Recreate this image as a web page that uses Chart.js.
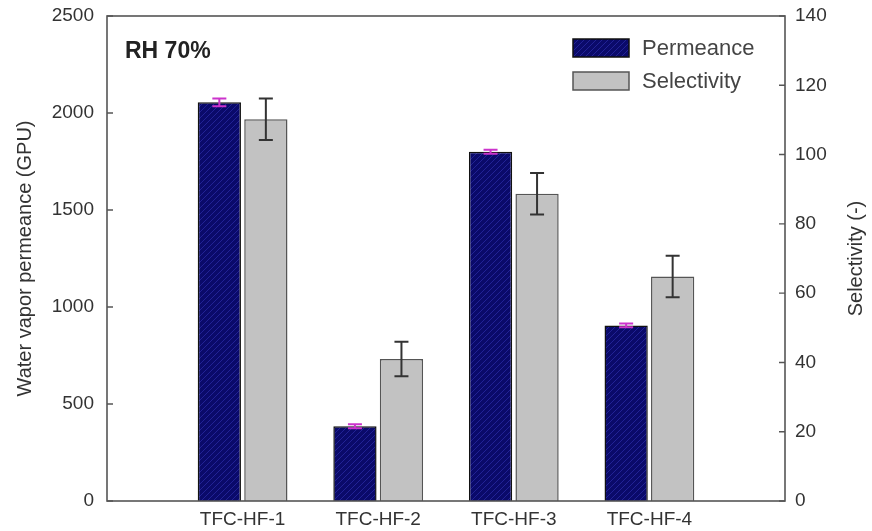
<!DOCTYPE html>
<html><head><meta charset="utf-8">
<script src="https://cdn.jsdelivr.net/npm/chart.js@4/dist/chart.umd.min.js"></script>
<style>html,body{margin:0;padding:0;background:#fff}#wrap{width:872px;height:531px;position:relative}</style>
</head><body><div id="wrap"><canvas id="c"></canvas></div>
<script>
const categories = ['TFC-HF-1', 'TFC-HF-2', 'TFC-HF-3', 'TFC-HF-4'];
const permeance = [2055, 385, 1800, 905];
const permeanceErr = [20, 10, 10, 10];
const selectivity = [110.2, 41.0, 88.7, 64.8];
const selectivityErr = [6, 5, 6, 6];
const leftTicks = [0, 500, 1000, 1500, 2000, 2500];
const rightTicks = [0, 20, 40, 60, 80, 100, 120, 140];
const seriesNames = ['Permeance', 'Selectivity'];
const leftTitle = 'Water vapor permeance (GPU)';
const rightTitle = 'Selectivity (-)';
const noteText = 'RH 70%';

const FONT = "'Liberation Sans', Arial, Helvetica, sans-serif";
const canvas = document.getElementById('c');
const mainCtx = canvas.getContext('2d');

function makeHatch() {
  const p = document.createElement('canvas');
  p.width = 6; p.height = 6;
  const g = p.getContext('2d');
  g.fillStyle = '#0a0a6a';
  g.fillRect(0, 0, 6, 6);
  g.strokeStyle = '#222296';
  g.lineWidth = 1;
  g.beginPath();
  g.moveTo(-1, 7); g.lineTo(7, -1);
  g.moveTo(-1, 1); g.lineTo(1, -1);
  g.moveTo(5, 7); g.lineTo(7, 5);
  g.stroke();
  return mainCtx.createPattern(p, 'repeat');
}
const hatch = makeHatch();

const toPoints = arr => arr.map((v, i) => ({ x: i + 1, y: v }));

const extras = {
  id: 'extras',
  afterDatasetsDraw(chart) {
    const { ctx, scales } = chart;
    chart.data.datasets.forEach((ds, di) => {
      const meta = chart.getDatasetMeta(di);
      const ys = scales[ds.yAxisID];
      ctx.save();
      ctx.strokeStyle = ds.errorColor;
      ctx.lineWidth = 2;
      meta.data.forEach((bar, i) => {
        const v = ds.data[i].y, e = ds.errors[i];
        const yt = ys.getPixelForValue(v + e), yb = ys.getPixelForValue(v - e);
        const x = bar.x, w = 7;
        ctx.beginPath();
        ctx.moveTo(x, yt); ctx.lineTo(x, yb);
        ctx.moveTo(x - w, yt); ctx.lineTo(x + w, yt);
        ctx.moveTo(x - w, yb); ctx.lineTo(x + w, yb);
        ctx.stroke();
      });
      ctx.restore();
    });
  },
  afterDraw(chart) {
    const { ctx, chartArea: a, scales } = chart;
    ctx.save();
    // frame
    ctx.strokeStyle = '#555';
    ctx.lineWidth = 1.6;
    ctx.strokeRect(a.left, a.top, a.right - a.left, a.bottom - a.top);
    // inward ticks
    ctx.lineWidth = 1.4;
    ctx.beginPath();
    leftTicks.forEach(v => {
      const y = scales.y.getPixelForValue(v);
      ctx.moveTo(a.left, y); ctx.lineTo(a.left + 6, y);
    });
    rightTicks.forEach(v => {
      const y = scales.y2.getPixelForValue(v);
      ctx.moveTo(a.right, y); ctx.lineTo(a.right - 6, y);
    });
    ctx.stroke();
    // right axis title, reading bottom-to-top
    ctx.save();
    ctx.translate(856, (a.top + a.bottom) / 2);
    ctx.rotate(-Math.PI / 2);
    ctx.fillStyle = '#333';
    ctx.font = '20px ' + FONT;
    ctx.textAlign = 'center';
    ctx.textBaseline = 'middle';
    ctx.fillText(rightTitle, 0, 0);
    ctx.restore();
    // legend
    const lx = 573, ly = [39, 72], bw = 56, bh = 18;
    chart.data.datasets.forEach((ds, i) => {
      ctx.fillStyle = ds.backgroundColor;
      ctx.fillRect(lx, ly[i], bw, bh);
      ctx.strokeStyle = ds.borderColor;
      ctx.lineWidth = 1.5;
      ctx.strokeRect(lx, ly[i], bw, bh);
      ctx.fillStyle = '#444';
      ctx.font = '22px ' + FONT;
      ctx.textBaseline = 'middle';
      ctx.textAlign = 'left';
      ctx.fillText(ds.label, 642, ly[i] + bh / 2 + 1);
    });
    // note
    ctx.fillStyle = '#222';
    ctx.font = 'bold 23px ' + FONT;
    ctx.textBaseline = 'middle';
    ctx.textAlign = 'left';
    ctx.fillText(noteText, 125, 52);
    ctx.restore();
  }
};

function fixVertical(width) {
  return s => { s.width = width; s.paddingTop = 0; s.paddingBottom = 0; };
}

new Chart(canvas, {
  type: 'bar',
  data: {
    datasets: [
      {
        label: seriesNames[0],
        data: toPoints(permeance),
        errors: permeanceErr,
        errorColor: '#cc33cc',
        yAxisID: 'y',
        backgroundColor: hatch,
        borderColor: '#111',
        borderWidth: 1.5
      },
      {
        label: seriesNames[1],
        data: toPoints(selectivity),
        errors: selectivityErr,
        errorColor: '#333',
        yAxisID: 'y2',
        backgroundColor: '#c2c2c2',
        borderColor: '#555',
        borderWidth: 1.5
      }
    ]
  },
  options: {
    responsive: true,
    maintainAspectRatio: false,
    animation: false,
    categoryPercentage: 0.686,
    barPercentage: 0.93,
    layout: { padding: { top: 16, left: 0, right: 0, bottom: 0 } },
    plugins: { legend: { display: false }, tooltip: { enabled: false } },
    scales: {
      x: {
        type: 'linear',
        offset: false,
        grace: 0,
        min: 0, max: 5,
        afterBuildTicks: s => { s.ticks = categories.map((_, i) => ({ value: i + 1 })); },
        ticks: {
          callback: v => categories[v - 1] || '',
          font: { family: FONT, size: 19 },
          color: '#333',
          padding: 7,
          autoSkip: false,
          maxRotation: 0
        },
        grid: { display: false, drawTicks: false, offset: false },
        border: { display: false },
        afterFit: s => { s.height = 30; s.paddingLeft = 0; s.paddingRight = 0; }
      },
      y: {
        position: 'left',
        min: 0, max: 2500,
        afterBuildTicks: s => { s.ticks = leftTicks.map(v => ({ value: v })); },
        ticks: { callback: v => String(v), font: { family: FONT, size: 19 }, color: '#333', padding: 13 },
        grid: { display: false, drawTicks: false },
        border: { display: false },
        title: { display: true, text: leftTitle, font: { family: FONT, size: 20 }, color: '#333', padding: { top: 13, bottom: 0 } },
        afterFit: fixVertical(107)
      },
      y2: {
        position: 'right',
        min: 0, max: 140,
        afterBuildTicks: s => { s.ticks = rightTicks.map(v => ({ value: v })); },
        ticks: { callback: v => String(v), font: { family: FONT, size: 19 }, color: '#333', padding: 10 },
        grid: { display: false, drawTicks: false },
        border: { display: false },
        afterFit: fixVertical(87)
      }
    }
  },
  plugins: [extras]
});
</script>
</body></html>
